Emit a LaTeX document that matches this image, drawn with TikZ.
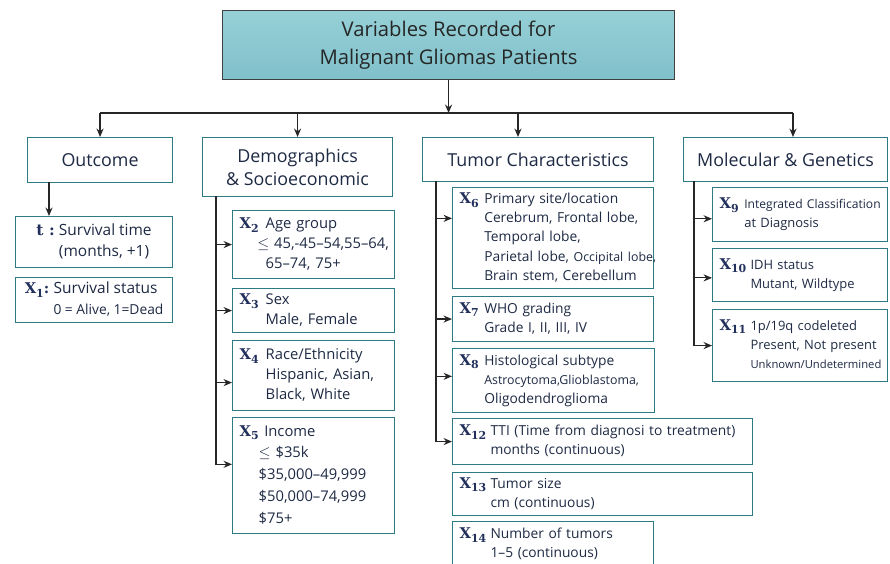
\documentclass[tikz,border=0pt]{standalone}
\usepackage[no-math]{fontspec}
\setmainfont{Open Sans}
\newfontfamily\xfont{DejaVu Serif}
\usepackage{xcolor}
\usetikzlibrary{arrows.meta,positioning}

\definecolor{boxteal}{RGB}{46,122,132}
\definecolor{titletop}{RGB}{150,208,215}
\definecolor{titlebot}{RGB}{128,192,202}
\definecolor{inkblue}{RGB}{30,42,68}
\definecolor{xnavy}{RGB}{34,48,92}

\newcommand{\xvar}[1]{\textcolor{xnavy}{\xfont\bfseries\fontsize{10.5}{13}\selectfont X\raisebox{-0.45ex}{\fontsize{7.8}{9}\selectfont #1}}}

\tikzset{
  box/.style={draw=boxteal, line width=0.8pt, fill=white, text=inkblue},
  head/.style 2 args={box, anchor=north west, minimum width=#1*0.025cm,
    minimum height=#2*0.025cm, inner sep=0pt, align=center,
    font=\fontsize{12.7}{16.5}\selectfont},
  varc/.style 2 args={box, anchor=north west, minimum width=#1*0.025cm,
    minimum height=#2*0.025cm, inner sep=0pt,
    font=\fontsize{11}{14.5}\selectfont},
  var/.style 2 args={box, anchor=north west, text width=#1*0.025cm-10pt,
    minimum height=#2*0.025cm, inner xsep=5pt, inner ysep=0pt, align=left,
    font=\fontsize{9.8}{13.6}\selectfont},
  demo/.style={font=\fontsize{10.5}{14.2}\selectfont},
  mole/.style={font=\fontsize{9.2}{13.6}\selectfont},
  link/.style={draw=black!85, line width=0.85pt}
}

\begin{document}
\begin{tikzpicture}[x=0.025cm,y=-0.025cm,>={Stealth[length=6pt,width=5pt]}]
    \useasboundingbox[fill=white] (0,0) rectangle (890,564);

    % title
    \node[draw=black!75, line width=0.8pt, top color=titletop, bottom color=titlebot,
          text=black!85, anchor=north west, minimum width=452*0.025cm,
          minimum height=69*0.025cm, align=center,
          font=\fontsize{14.4}{19.5}\selectfont] (title) at (222,10)
          {Variables Recorded for\\ Malignant Gliomas Patients};

    % groups
    \node[head={145}{45}] (out) at (27,137) {Outcome};
    \node[head={190}{59}] (dem) at (202,137) {Demographics\\ \& Socioeconomic};
    \node[head={231}{44}] (tum) at (422,137) {Tumor Characteristics};
    \node[head={204}{44}] (mol) at (683,137) {Molecular \& Genetics};

    % outcome
    \node[varc={157}{51}] (tbox) at (15,216) {\begin{tabular}{@{}l@{\hspace{3pt}}l@{}}
        \textcolor{xnavy}{\xfont\bfseries\fontsize{11}{13}\selectfont t :} & Survival time\\
        & (months, +1)\end{tabular}};
    \node[varc={157}{45}] (x1) at (15,277) {\begin{tabular}{@{}l@{\hspace{3pt}}l@{}}
        \xvar{1}\textcolor{xnavy}{\xfont\bfseries\fontsize{10.5}{13}\selectfont :} & Survival status\\
        & {\fontsize{9.8}{12}\selectfont 0 = Alive, 1=Dead}\end{tabular}};

    % demographics
    \node[var={162}{68}, demo] (x2) at (232,210) {\begin{tabular}{@{}l@{\hspace{5pt}}l@{}}
        \xvar{2} & Age group\\
        & \hspace*{-6pt}$\le$ 45,-45--54,55--64,\\
        & 65--74, 75+\end{tabular}};
    \node[var={162}{44}, demo] (x3) at (232,288) {\begin{tabular}{@{}l@{\hspace{5pt}}l@{}}
        \xvar{3} & Sex\\
        & Male, Female\end{tabular}};
    \node[var={162}{70}, demo] (x4) at (232,340) {\begin{tabular}{@{}l@{\hspace{5pt}}l@{}}
        \xvar{4} & Race/Ethnicity\\
        & Hispanic, Asian,\\
        & Black, White\end{tabular}};
    \node[var={162}{116}, demo] (x5) at (232,417) {\renewcommand{\arraystretch}{1.1}%
        \begin{tabular}{@{}l@{\hspace{4pt}}l@{}}
        \xvar{5} & Income\\
        & \hspace*{-4pt}$\le$ \$35k\\
        & \hspace*{-4pt}\$35,000--49,999\\
        & \hspace*{-4pt}\$50,000--74,999\\
        & \hspace*{-4pt}\$75+\end{tabular}};

    % tumor
    \node[var={201}{101}] (x6) at (452,187) {\begin{tabular}{@{}l@{\hspace{4pt}}l@{}}
        \xvar{6} & Primary site/location\\
        & Cerebrum, Frontal lobe,\\
        & Temporal lobe,\\
        & Parietal lobe, {\fontsize{8.8}{10}\selectfont Occipital lobe,}\\
        & Brain stem, Cerebellum\end{tabular}};
    \node[var={201}{45}] (x7) at (452,296) {\begin{tabular}{@{}l@{\hspace{4pt}}l@{}}
        \xvar{7} & WHO grading\\
        & Grade I, II, III, IV\end{tabular}};
    \node[var={202}{64}] (x8) at (452,348) {\begin{tabular}{@{}l@{\hspace{4pt}}l@{}}
        \xvar{8} & Histological subtype\\
        & {\fontsize{8.8}{10}\selectfont Astrocytoma,Glioblastoma,}\\
        & Oligodendroglioma\end{tabular}};
    \node[var={300}{46}] (x12) at (452,418) {\begin{tabular}{@{}l@{\hspace{3pt}}l@{}}
        \xvar{12} & TTI (Time from diagnosi to treatment)\\
        & months (continuous)\end{tabular}};
    \node[var={300}{43}] (x13) at (452,472) {\begin{tabular}{@{}l@{\hspace{3pt}}l@{}}
        \xvar{13} & Tumor size\\
        & cm (continuous)\end{tabular}};
    \node[var={201}{46}] (x14) at (452,521) {\begin{tabular}{@{}l@{\hspace{3pt}}l@{}}
        \xvar{14} & Number of tumors\\
        & 1--5 (continuous)\end{tabular}};

    % molecular
    \node[var={175}{54}, mole] (x9) at (712,187) {\begin{tabular}{@{}l@{\hspace{4pt}}l@{}}
        \xvar{9} & {\fontsize{8.6}{10}\selectfont Integrated Classification}\\
        & at Diagnosis\end{tabular}};
    \node[var={175}{53}, mole] (x10) at (712,248) {\begin{tabular}{@{}l@{\hspace{3pt}}l@{}}
        \xvar{10} & IDH status\\
        & Mutant, Wildtype\end{tabular}};
    \node[var={175}{72}, mole] (x11) at (712,309) {\begin{tabular}{@{}l@{\hspace{3pt}}l@{}}
        \xvar{11} & 1p/19q codeleted\\
        & Present, Not present\\
        & {\fontsize{8}{10}\selectfont Unknown/Undetermined}\end{tabular}};

    % top bus
    \coordinate (busL) at (102,113);
    \coordinate (tarr) at (518,113);
    \coordinate (marr) at (793,113);
    \draw[link] (out.north |- busL) -- (marr);
    \draw[link,->] (title.south) -- (title.south |- busL);
    \draw[link,->] (out.north |- busL) -- (out.north);
    \draw[link,->] (dem.north |- busL) -- (dem.north);
    \draw[link,->] (tarr) -- (tarr |- tum.north);
    \draw[link,->] (marr) -- (marr |- mol.north);

    % spines
    \coordinate (osp) at (49,182);
    \coordinate (dsp) at (216,196);
    \coordinate (tsp) at (436,181);
    \coordinate (msp) at (694,181);
    \draw[link,->] (osp) -- (osp |- tbox.north);

    \draw[link,->] (dsp) |- ([yshift=8pt]x5.west);
    \draw[link,->] (dsp |- x2.west) -- (x2.west);
    \draw[link,->] (dsp |- x3.west) -- (x3.west);
    \draw[link,->] ([yshift=-5pt]dsp |- x4.west) -- ([yshift=-5pt]x4.west);

    \draw[link,->] (tsp) |- (x12.west);
    \draw[link,->] ([yshift=14pt]tsp |- x6.west) -- ([yshift=14pt]x6.west);
    \draw[link,->] (tsp |- x7.west) -- (x7.west);
    \draw[link,->] ([yshift=3pt]tsp |- x8.west) -- ([yshift=3pt]x8.west);

    \draw[link,->] (msp) |- (x11.west);
    \draw[link,->] ([yshift=-3pt]msp |- x9.west) -- ([yshift=-3pt]x9.west);
    \draw[link,->] ([yshift=-2pt]msp |- x10.west) -- ([yshift=-2pt]x10.west);
\end{tikzpicture}
\end{document}
